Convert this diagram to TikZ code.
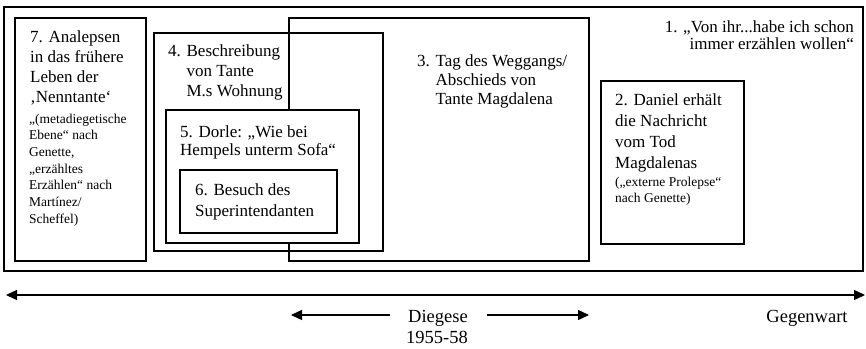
\documentclass[tikz,border=0pt]{standalone}
\usepackage{fontspec}
\setmainfont{Liberation Serif}
\usetikzlibrary{arrows.meta}
\newcommand{\blk}[4]{{\fontsize{#1}{#2}\selectfont\begin{tabular}[t]{@{}#3@{}}#4\end{tabular}}}
\begin{document}
\begin{tikzpicture}[x=1pt,y=-1pt,
  box/.style={draw=black,line width=1.1pt},
  txt/.style={inner sep=0pt,anchor=base west},
  arr/.style={line width=1.3pt,-{Triangle[length=11pt,width=10pt]}},
  arrboth/.style={line width=1.3pt,{Triangle[length=11pt,width=10pt]}-{Triangle[length=11pt,width=10pt]}}]
\useasboundingbox (0,0) rectangle (866,348);
% frame
\draw[line width=1.5pt] (4,7) rectangle (863,271);
% boxes
\draw[box] (15,18) rectangle (146,261);
\draw[box] (289,18) rectangle (589,261);
\draw[box] (154,33) rectangle (383,251);
\draw[box,fill=white] (166,110) rectangle (359,243);
\draw[box] (180,170) rectangle (337,233);
\draw[box] (601,81) rectangle (744,244);
% texts
\node[txt] (t7a) at (30,42) {\blk{17}{20.3}{l}{7. Analepsen\\in das frühere\\Leben der\\‚Nenntante‘}};
\node[txt] (t7b) at (29,123) {\blk{13.5}{16.7}{l}{„(metadiegetische\\Ebene“ nach\\Genette,\\„erzähltes\\Erzählen“ nach\\Martínez/\\Scheffel)}};
\node[txt] (t4) at (168,56) {\blk{17}{20}{l}{4. Beschreibung\\\hphantom{4. }von Tante\\\hphantom{4. }M.s Wohnung}};
\node[txt] (t3) at (417,66) {\blk{17}{19}{l}{3. Tag des Weggangs/\\\hphantom{3. }Abschieds von\\\hphantom{3. }Tante Magdalena}};
\node[txt] (t5) at (180,137) {\blk{17}{18}{l}{5. Dorle: „Wie bei\\Hempels unterm Sofa“}};
\node[txt] (t6) at (195,195) {\blk{17}{21}{l}{6. Besuch des\\Superintendanten}};
\node[txt] (t2a) at (615,105) {\blk{17}{21.3}{l}{2. Daniel erhält\\die Nachricht\\vom Tod\\Magdalenas}};
\node[txt] (t2b) at (615,186) {\blk{13.5}{16}{l}{(„externe Prolepse“\\nach Genette)}};
\node[inner sep=0pt,anchor=base east] (t1) at (854,32) {\blk{17}{17}{r}{1. „Von ihr...habe ich schon\\immer erzählen wollen“}};
% timeline
\coordinate (tl) at (6,295);
\coordinate (tr) at (865,295);
\draw[arrboth] (tl) -- (tr);
\node[inner sep=0pt,anchor=base] (dieg) at (438,322) {\fontsize{18.5}{20}\selectfont Diegese};
\node[inner sep=0pt,anchor=base] (year) at (437,343) {\fontsize{18.5}{20}\selectfont 1955-58};
\node[inner sep=0pt,anchor=base] (gegen) at (807,322) {\fontsize{18.5}{20}\selectfont Gegenwart};
\coordinate (dl0) at (390,315);
\coordinate (dl1) at (291,315);
\coordinate (dr0) at (487,315);
\coordinate (dr1) at (589,315);
\draw[arr] (dl0) -- (dl1);
\draw[arr] (dr0) -- (dr1);
\end{tikzpicture}
\end{document}
